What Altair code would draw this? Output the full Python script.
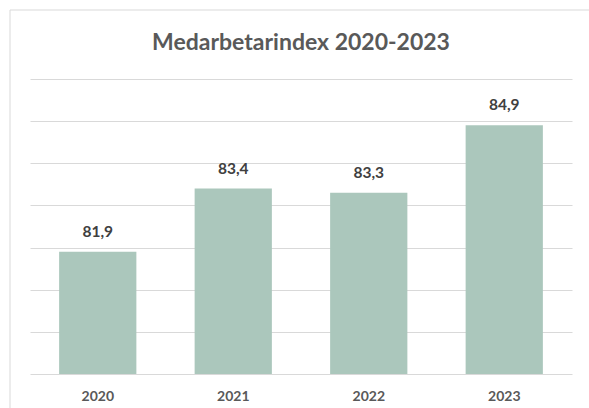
import altair as alt
import pandas as pd

title_text = "Medarbetarindex 2020-2023"
years = ["2020", "2021", "2022", "2023"]
values = [81.9, 83.4, 83.3, 84.9]
grid_values = [79, 80, 81, 82, 83, 84, 85, 86]

df = pd.DataFrame({"year": years, "value": values})

FONT = "Lato"
BAR = "#abc7bc"
GRID = "#d9d9d9"

x = alt.X("year:N", sort=years, title=None,
          scale=alt.Scale(paddingInner=0.43, paddingOuter=0.215),
          axis=alt.Axis(labelAngle=0, labelFont=FONT, labelFontSize=14,
                        labelFontWeight="bold", labelColor="#595959",
                        ticks=False, domain=False, labelPadding=15, grid=False))
y = alt.Y("value:Q", title=None,
          scale=alt.Scale(domain=[79, 86], zero=False, nice=False),
          axis=alt.Axis(values=grid_values, labels=False, ticks=False, domain=False,
                        grid=True, gridColor=GRID, gridWidth=1))

base = alt.Chart(df)

bars = base.mark_bar(color=BAR).encode(x=x, y=y, y2=alt.datum(79))

labels = base.transform_calculate(
    lbl="replace(format(datum.value, '.1f'), '.', ',')"
).mark_text(font=FONT, fontSize=15.5, fontWeight="bold", color="#404040",
            baseline="bottom", dy=-12).encode(x=x, y=y, text="lbl:N")

one = alt.Data(values=[{"t": title_text}])
title = alt.Chart(one).mark_text(font=FONT, fontSize=23, fontWeight="bold",
                                 color="#595959", baseline="middle", align="center").encode(
    x=alt.value(271), y=alt.value(-36), text="t:N")
left_border = alt.Chart(one).mark_rule(color=GRID, strokeWidth=1).encode(
    x=alt.value(-20), y=alt.value(-69), y2=alt.value(360))
top_border = alt.Chart(one).mark_rule(color=GRID, strokeWidth=1).encode(
    x=alt.value(-20), x2=alt.value(600), y=alt.value(-69))

chart = alt.layer(bars, labels, title, left_border, top_border).properties(
    width=542, height=295,
    autosize=alt.AutoSizeParams(type="none"),
    padding={"left": 30, "top": 79, "right": 17, "bottom": 34},
).configure(background="white").configure_view(stroke=None)

chart.save("out.html", embed_options={"renderer": "svg", "actions": False})
